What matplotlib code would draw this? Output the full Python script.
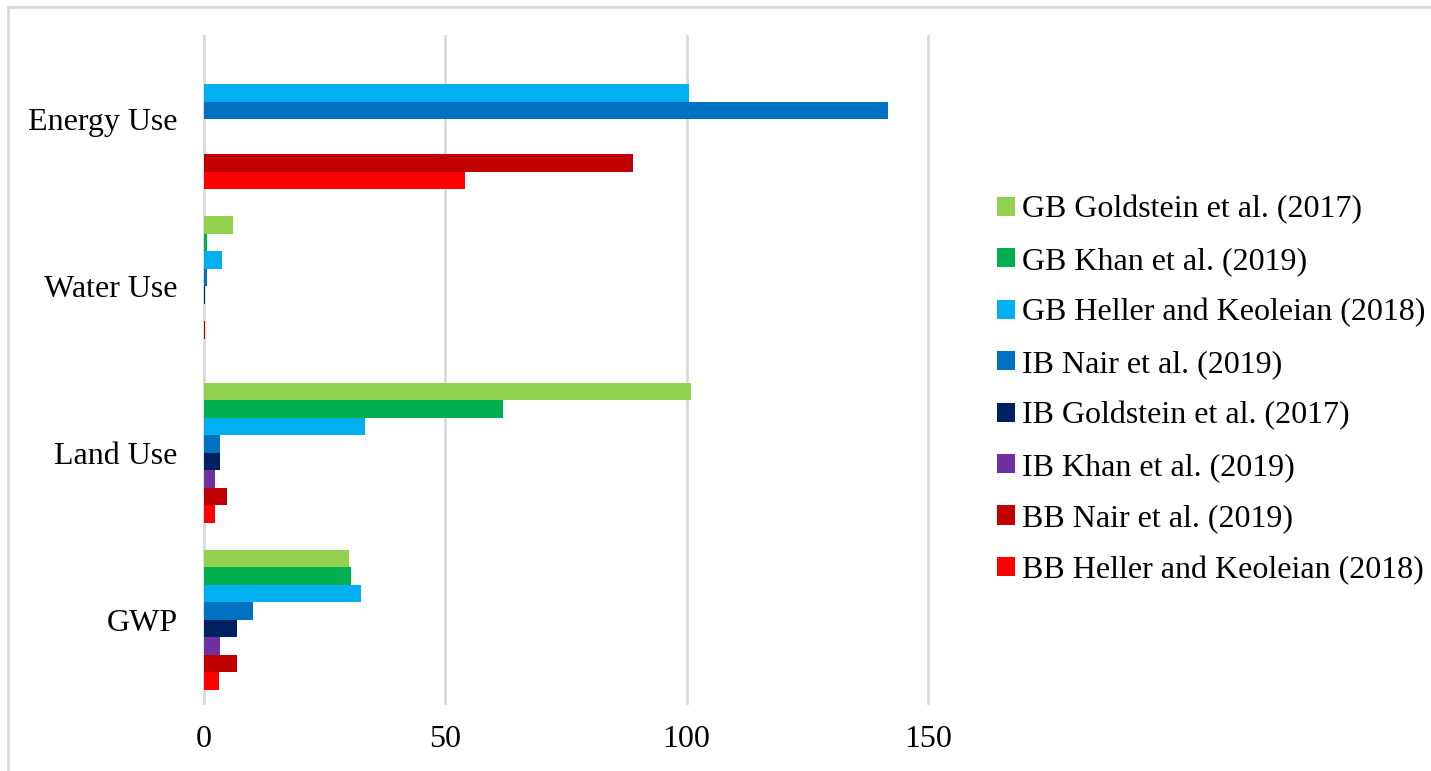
import matplotlib
matplotlib.use("Agg")
import matplotlib.pyplot as plt
from matplotlib.patches import Patch, Rectangle
import numpy as np

plt.rcParams["font.family"] = ["Liberation Serif", "DejaVu Serif"]

categories = ["GWP", "Land Use", "Water Use", "Energy Use"]
series = [
    "GB Goldstein et al. (2017)",
    "GB Khan et al. (2019)",
    "GB Heller and Keoleian (2018)",
    "IB Nair et al. (2019)",
    "IB Goldstein et al. (2017)",
    "IB Khan et al. (2019)",
    "BB Nair et al. (2019)",
    "BB Heller and Keoleian (2018)",
]
# values per series, in category order: GWP, Land Use, Water Use, Energy Use
gb_goldstein = [30.0, 101.0, 6.0, 0.0]
gb_khan = [30.5, 62.0, 0.7, 0.0]
gb_heller = [32.5, 33.3, 3.8, 100.4]
ib_nair = [10.1, 3.3, 0.7, 141.8]
ib_goldstein = [6.8, 3.4, 0.2, 0.0]
ib_khan = [3.4, 2.3, 0.0, 0.0]
bb_nair = [6.8, 4.7, 0.3, 88.8]
bb_heller = [3.2, 2.2, 0.0, 54.0]
values = [gb_goldstein, gb_khan, gb_heller, ib_nair,
          ib_goldstein, ib_khan, bb_nair, bb_heller]
colors = ["#92D050", "#00B050", "#00B0F0", "#0070C0",
          "#002060", "#7030A0", "#C00000", "#FF0000"]
xticks = [0, 50, 100, 150]

W, H = 1431, 771
fig = plt.figure(figsize=(W / 100, H / 100), dpi=100)
ax = fig.add_axes([204 / W, 68 / H, (928 - 204) / W, (703 - 36) / H])

n = len(series)
bar_h = 0.105
y = np.arange(len(categories))
for i, (vals, col) in enumerate(zip(values, colors)):
    offs = (n - 1) / 2 * bar_h - i * bar_h
    ax.barh(y + offs, vals, height=bar_h, color=col, zorder=3,
            edgecolor="none")

ax.set_xlim(0, 150)
ax.set_ylim(-0.5, len(categories) - 0.5)
ax.set_xticks(xticks)
ax.set_xticklabels([str(t) for t in xticks])
ax.set_yticks(y)
ax.set_yticklabels(categories)
ax.tick_params(axis="both", length=0, labelsize=23)
ax.tick_params(axis="x", pad=16)
ax.tick_params(axis="y", pad=19)
ax.grid(axis="x", color="#D9D9D9", linewidth=2, zorder=0)
for gl in ax.get_xgridlines():
    gl.set_clip_on(False)
for s in ax.spines.values():
    s.set_visible(False)

handles = [Patch(facecolor=c, edgecolor="none") for c in colors]
fig.legend(handles, series, loc="center left",
           bbox_to_anchor=(997 / W, 1 - 390 / H),
           frameon=False, fontsize=23, borderpad=0, borderaxespad=0,
           handlelength=0.55, handleheight=0.55, handletextpad=0.22,
           labelspacing=0.7)

# outer chart border
fig.patches.append(Rectangle((8 / W, -0.1), 1.2, 1.1 - 7 / H,
                             transform=fig.transFigure, fill=False,
                             edgecolor="#D9D9D9", linewidth=2))

fig.savefig("out.png", dpi=100)
